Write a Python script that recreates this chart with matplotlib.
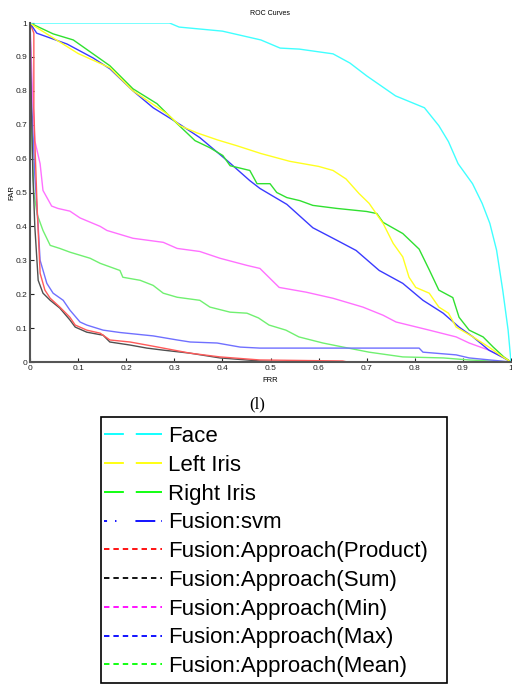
import numpy as np
import matplotlib
matplotlib.use("Agg")
import matplotlib.pyplot as plt
from matplotlib.lines import Line2D
from matplotlib.patches import Rectangle

plt.rcParams['font.family'] = ['Liberation Sans', 'DejaVu Sans']

# ROC curves (FRR, FAR)
face_frr = [0, 0.29, 0.31, 0.40, 0.48, 0.52, 0.56, 0.63, 0.665, 0.70, 0.76, 0.82,
            0.85, 0.87, 0.89, 0.92, 0.94, 0.956, 0.97, 0.983, 0.994, 1]
face_far = [1, 1, 0.988, 0.976, 0.95, 0.926, 0.923, 0.909, 0.882, 0.844, 0.785, 0.75,
            0.697, 0.65, 0.585, 0.526, 0.468, 0.409, 0.33, 0.21, 0.094, 0]

left_frr = [0, 0.01, 0.10, 0.166, 0.214, 0.285, 0.312, 0.347, 0.39, 0.43, 0.48, 0.54,
            0.60, 0.63, 0.657, 0.684, 0.705, 0.734, 0.755, 0.775, 0.788, 0.802, 0.83,
            0.85, 0.87, 0.886, 0.921, 0.954, 0.983, 1]
left_far = [1, 0.99, 0.91, 0.868, 0.80, 0.732, 0.697, 0.676, 0.655, 0.638, 0.615, 0.592,
            0.577, 0.565, 0.54, 0.497, 0.468, 0.409, 0.35, 0.31, 0.25, 0.22, 0.203,
            0.162, 0.144, 0.103, 0.074, 0.044, 0.015, 0]

right_frr = [0, 0.048, 0.09, 0.131, 0.166, 0.214, 0.264, 0.306, 0.343, 0.374, 0.401,
             0.416, 0.457, 0.472, 0.499, 0.513, 0.534, 0.561, 0.588, 0.638, 0.70, 0.721,
             0.734, 0.775, 0.809, 0.83, 0.85, 0.879, 0.892, 0.913, 0.942, 0.963, 0.985, 1]
right_far = [1, 0.968, 0.95, 0.909, 0.874, 0.806, 0.762, 0.703, 0.653, 0.632, 0.609,
             0.579, 0.565, 0.526, 0.526, 0.50, 0.485, 0.476, 0.462, 0.453, 0.444, 0.438,
             0.412, 0.379, 0.333, 0.272, 0.212, 0.19, 0.132, 0.094, 0.074, 0.044, 0.015, 0]

svm_frr = [0, 0.014, 0.077, 0.131, 0.166, 0.214, 0.256, 0.306, 0.353, 0.41, 0.457, 0.478,
           0.534, 0.588, 0.638, 0.678, 0.726, 0.775, 0.817, 0.859, 0.892, 0.921, 0.954,
           0.985, 1]
svm_far = [1, 0.97, 0.938, 0.897, 0.865, 0.80, 0.75, 0.706, 0.662, 0.594, 0.535, 0.512,
           0.465, 0.396, 0.359, 0.329, 0.27, 0.232, 0.182, 0.144, 0.103, 0.074, 0.035,
           0.012, 0]

prod_frr = [0, 0.008, 0.008, 0.01, 0.015, 0.021, 0.031, 0.042, 0.062, 0.083, 0.094, 0.118,
            0.146, 0.166, 0.208, 0.243, 0.277, 0.333, 0.395, 0.478, 0.65, 0.66, 1]
prod_far = [1, 0.97, 0.75, 0.65, 0.45, 0.262, 0.212, 0.188, 0.162, 0.132, 0.109, 0.094,
            0.085, 0.065, 0.059, 0.05, 0.041, 0.026, 0.015, 0.006, 0.003, 0, 0]

sum_frr = [0, 0.003, 0.006, 0.01, 0.017, 0.027, 0.042, 0.062, 0.083, 0.094, 0.118, 0.152,
           0.166, 0.208, 0.243, 0.277, 0.333, 0.395, 0.478, 0.55, 1]
sum_far = [1, 0.75, 0.55, 0.4, 0.241, 0.203, 0.182, 0.159, 0.124, 0.103, 0.088, 0.079,
           0.059, 0.05, 0.041, 0.035, 0.026, 0.012, 0.003, 0, 0]

min_frr = [0, 0.005, 0.01, 0.021, 0.027, 0.045, 0.058, 0.083, 0.104, 0.146, 0.16, 0.214,
           0.277, 0.306, 0.353, 0.395, 0.451, 0.478, 0.518, 0.574, 0.63, 0.692, 0.734,
           0.761, 0.83, 0.886, 0.913, 0.954, 0.983, 1]
min_far = [1, 0.8, 0.653, 0.585, 0.506, 0.46, 0.453, 0.445, 0.425, 0.40, 0.388, 0.365,
           0.353, 0.335, 0.326, 0.306, 0.285, 0.276, 0.22, 0.206, 0.188, 0.162, 0.138,
           0.118, 0.094, 0.074, 0.056, 0.035, 0.015, 0]

max_frr = [0, 0.004, 0.01, 0.017, 0.021, 0.035, 0.048, 0.069, 0.083, 0.104, 0.118, 0.152,
           0.187, 0.256, 0.306, 0.333, 0.389, 0.437, 0.478, 0.809, 0.817, 0.886, 0.913, 1]
max_far = [1, 0.75, 0.55, 0.4, 0.3, 0.232, 0.203, 0.182, 0.153, 0.118, 0.109, 0.094,
           0.087, 0.077, 0.065, 0.059, 0.056, 0.044, 0.041, 0.041, 0.029, 0.021, 0.012, 0]

mean_frr = [0, 0.003, 0.008, 0.015, 0.027, 0.042, 0.062, 0.083, 0.104, 0.125, 0.146, 0.187,
            0.193, 0.229, 0.256, 0.277, 0.306, 0.353, 0.374, 0.416, 0.451, 0.475, 0.497,
            0.532, 0.559, 0.609, 0.651, 0.705, 0.775, 0.859, 0.913, 1]
mean_far = [1, 0.7, 0.5, 0.435, 0.388, 0.344, 0.335, 0.324, 0.315, 0.306, 0.291, 0.27,
            0.25, 0.241, 0.226, 0.203, 0.191, 0.182, 0.162, 0.147, 0.144, 0.13, 0.109,
            0.094, 0.074, 0.056, 0.044, 0.029, 0.015, 0.012, 0.006, 0]

labels = ["Face", "Left Iris", "Right Iris", "Fusion:svm", "Fusion:Approach(Product)",
          "Fusion:Approach(Sum)", "Fusion:Approach(Min)", "Fusion:Approach(Max)",
          "Fusion:Approach(Mean)"]
curves = [(face_frr, face_far), (left_frr, left_far), (right_frr, right_far),
          (svm_frr, svm_far), (prod_frr, prod_far), (sum_frr, sum_far),
          (min_frr, min_far), (max_frr, max_far), (mean_frr, mean_far)]
plot_colors = ["#40ffff", "#ffff20", "#30e030", "#3a3aff", "#ff5a5a", "#505050",
               "#ff70ff", "#7070ff", "#70f070"]
leg_colors = ["#00ffff", "#ffff00", "#00ff00", "#0000ff", "#ff0000", "#000000",
              "#ff00ff", "#0000ff", "#00ff00"]
long_dash = (11, 6.6, 16.6, 5.5)
dash_dot = (1.7, 4.4, 0.8, 10.5, 11, 3.3, 0.8, 4.4)
short_dash = (3, 2.2)
leg_dashes = [long_dash, long_dash, long_dash, dash_dot,
              short_dash, short_dash, short_dash, short_dash, short_dash]

fig = plt.figure(figsize=(5.12, 6.84), dpi=100)
ax = fig.add_axes([30 / 512, 1 - 362 / 684, 481 / 512, 339 / 684])

# draw in reverse so face/iris are on top like the reference
for (x, y), c in reversed(list(zip(curves, plot_colors))):
    ax.plot(x, y, color=c, lw=1.0)

ax.set_xlim(0, 1)
ax.set_ylim(0, 1)
ax.set_xticks(np.arange(0, 1.01, 0.1))
ax.set_yticks(np.arange(0, 1.01, 0.1))
ax.set_xticklabels(["0", "0.1", "0.2", "0.3", "0.4", "0.5", "0.6", "0.7", "0.8", "0.9", "1"])
ax.set_yticklabels(["0", "0.1", "0.2", "0.3", "0.4", "0.5", "0.6", "0.7", "0.8", "0.9", "1"])
ax.tick_params(direction="in", length=3, width=0.8, labelsize=6, pad=2, colors="#222222")
for s in ["top", "right"]:
    ax.spines[s].set_visible(False)
for s in ["left", "bottom"]:
    ax.spines[s].set_color("#555555")
    ax.spines[s].set_linewidth(1.5)
ax.set_title("ROC Curves", fontsize=5, pad=6)
ax.set_xlabel("FRR", fontsize=5.5, labelpad=4)
ax.set_ylabel("FAR", fontsize=5.5, labelpad=0)

fig.text(257 / 512, 1 - 404 / 684, "(l)", fontsize=12, family="Liberation Serif",
         ha="center", va="center")

# legend box is drawn separately so its size can match the reference
fig.patches.append(Rectangle((101 / 512, 1 - 683 / 684), 346 / 512, 266 / 684,
                             transform=fig.transFigure, facecolor="white",
                             edgecolor="black", lw=1.2, zorder=1))
handles = [Line2D([], [], color=c, lw=1.3, dashes=d) for c, d in zip(leg_colors, leg_dashes)]
leg = fig.legend(handles, labels, loc="upper left",
                 bbox_to_anchor=(104 / 512, 1 - 426 / 684),
                 fontsize=16, frameon=False, handlelength=2.6, handletextpad=0.3,
                 labelspacing=0.35, borderpad=0, borderaxespad=0)
leg.set_zorder(5)

fig.savefig("out.png", dpi=100)
